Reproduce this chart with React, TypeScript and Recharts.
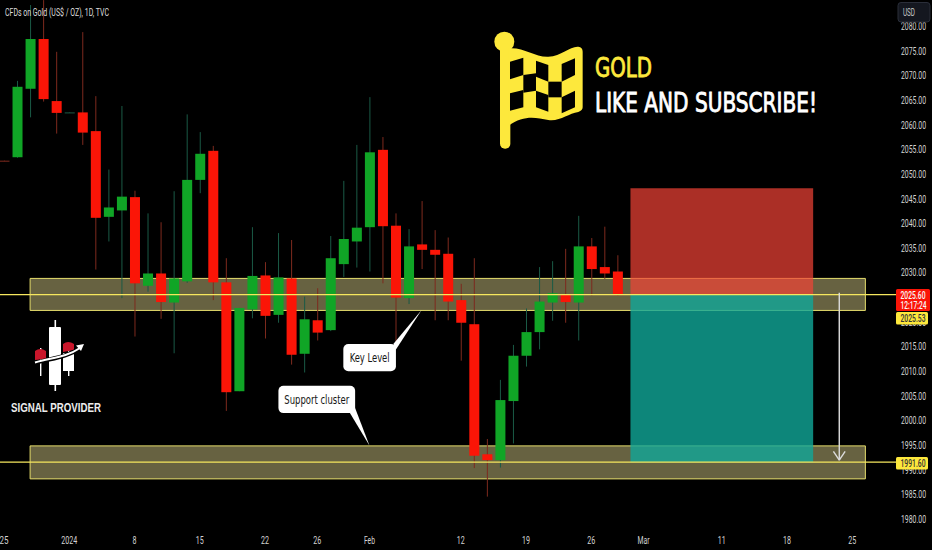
import React from "react";
import {
  ComposedChart,
  Bar,
  XAxis,
  YAxis,
  ReferenceArea,
  ReferenceLine,
  ReferenceDot,
} from "recharts";

const opens = [2052.8, 2053.5, 2067.4, 2077.5, 2064.9, 2062.5, 2062.6, 2058.8, 2041.4, 2042.7, 2045.4, 2027.4, 2029.9, 2024.0, 2028.3, 2048.9, 2054.8, 2028.1, 2006.0, 2022.6, 2029.5, 2021.5, 2028.9, 2013.6, 2020.4, 2018.4, 2031.8, 2036.4, 2039.3, 2055.0, 2039.6, 2024.9, 2035.8, 2034.7, 2033.9, 2024.5, 2019.6, 1993.2, 1992.0, 2004.0, 2013.2, 2018.0, 2024.0, 2025.6, 2024.0, 2035.4, 2031.2, 2030.3];
const closes = [2052.7, 2067.8, 2077.5, 2065.3, 2062.5, 2062.6, 2058.5, 2041.2, 2043.3, 2045.5, 2027.9, 2029.9, 2024.1, 2028.9, 2048.9, 2054.2, 2028.1, 2005.8, 2022.9, 2029.4, 2021.3, 2029.1, 2013.4, 2020.6, 2017.9, 2033.0, 2036.9, 2039.2, 2054.5, 2039.5, 2025.0, 2035.4, 2034.7, 2033.7, 2024.2, 2019.9, 1992.9, 1992.0, 2004.2, 2013.2, 2018.0, 2024.2, 2025.9, 2024.1, 2035.4, 2030.8, 2029.9, 2025.5];
const highs = [2052.8, 2069.0, 2084.4, 2085.4, 2074.9, 2062.6, 2078.9, 2065.9, 2051.0, 2063.9, 2046.7, 2042.1, 2040.3, 2046.6, 2062.2, 2058.6, 2055.8, 2033.0, 2022.9, 2039.3, 2032.2, 2038.1, 2036.7, 2025.2, 2026.9, 2037.5, 2048.7, 2056.0, 2065.7, 2057.6, 2042.1, 2038.9, 2044.6, 2038.7, 2037.2, 2027.8, 2033.0, 1996.3, 2008.3, 2015.4, 2022.8, 2031.2, 2032.4, 2034.9, 2041.6, 2037.1, 2039.4, 2033.6];
const lows = [2052.7, 2053.4, 2061.6, 2064.8, 2058.3, 2062.5, 2056.0, 2030.7, 2036.4, 2024.9, 2017.1, 2026.2, 2020.7, 2013.7, 2028.0, 2046.2, 2024.5, 2002.0, 2006.0, 2020.8, 2016.7, 2019.9, 2011.4, 2009.8, 2016.3, 2018.2, 2029.2, 2031.1, 2030.3, 2027.9, 2015.0, 2023.7, 2030.8, 2020.4, 2020.4, 2012.2, 1990.4, 1984.6, 1990.5, 1995.4, 2011.0, 2014.5, 2020.3, 2019.9, 2016.3, 2025.4, 2028.8, 2025.4];

const xTickIndex = [0, 5, 10, 15, 20, 24, 28, 35, 40, 45, 49, 55, 60, 65];
const xTickLabels = ["25", "2024", "8", "15", "22", "26", "Feb", "12", "19", "26", "Mar", "11", "18", "25"];
const xTickWidths = [9, 16, 4, 8, 8, 8, 11, 8, 8, 8, 12, 8, 8, 8];
const yTicks = [1980, 1985, 1990, 1995, 2000, 2005, 2010, 2015, 2020, 2025, 2030, 2035, 2040, 2045, 2050, 2055, 2060, 2065, 2070, 2075, 2080];

const lastPrice = 2025.6;
const targetPrice = 1991.6;
const topZone = [2022.4, 2028.9];
const bottomZone = [1988.2, 1994.9];
const riskTop = 2047.2;

const rows = opens.map((open, i) => ({
  i,
  open,
  close: closes[i],
  high: highs[i],
  low: lows[i],
  range: [lows[i], highs[i]],
}));

const FONT = "Roboto, 'Open Sans', sans-serif";
const COND = "'DejaVu Sans Condensed', 'DejaVu Sans', sans-serif";

function Candle(props: any) {
  const { x, y, width, height, payload } = props;
  const { open, close, high, low } = payload;
  const up = close >= open;
  const body = up ? "#10a526" : "#fb1507";
  const wick = up ? "#1a5a46" : "#7e2a1e";
  const unit = high > low ? height / (high - low) : 0;
  const cx = x + width / 2;
  const topPx = y + (high - Math.max(open, close)) * unit;
  const h = Math.abs(open - close) * unit;
  const doji = h < 1;
  return (
    <g>
      <line x1={cx} x2={cx} y1={y} y2={y + height} stroke={wick} strokeWidth={1} />
      <rect x={x} y={topPx} width={width} height={Math.max(h, 1)} fill={doji ? wick : body} />
    </g>
  );
}

function YTick(props: any) {
  const { x, y, payload } = props;
  return (
    <text x={x + 3} y={y + 3.5} fontFamily={FONT} fontSize={10} fill="#d2d2d2" textLength={25} lengthAdjust="spacingAndGlyphs">
      {Number(payload.value).toFixed(2)}
    </text>
  );
}

function XTick(props: any) {
  const { x, y, payload } = props;
  const k = xTickIndex.indexOf(payload.value);
  return (
    <text x={x} y={y + 8} textAnchor="middle" fontFamily={FONT} fontSize={10} fill="#d2d2d2" textLength={xTickWidths[k]} lengthAdjust="spacingAndGlyphs">
      {xTickLabels[k]}
    </text>
  );
}

function Callout(props: any) {
  const { cx, cy, box, tail, label, textW } = props;
  const [bx, by, bw, bh] = box;
  return (
    <g>
      <polygon points={`${cx},${cy} ${cx + tail[0]},${cy + tail[1]} ${cx + tail[2]},${cy + tail[3]}`} fill="#ffffff" />
      <rect x={cx + bx} y={cy + by} width={bw} height={bh} rx={5} fill="#ffffff" />
      <text x={cx + bx + bw / 2} y={cy + by + bh / 2 + 4.5} textAnchor="middle" fontFamily={COND} fontSize={13} fill="#161616" textLength={textW} lengthAdjust="spacingAndGlyphs">
        {label}
      </text>
    </g>
  );
}

function Overlay() {
  return (
    <svg width={932} height={550} style={{ position: "absolute", left: 0, top: 0, pointerEvents: "none" }}>
      <text x={5} y={15.5} fontFamily={FONT} fontSize={10.5} fill="#dcdcdc" textLength={104} lengthAdjust="spacingAndGlyphs">
        CFDs on Gold (US$ / OZ), 1D, TVC
      </text>

      <rect x={898} y={2.5} width={32} height={19.5} rx={3} fill="#14171f" stroke="#2a2e39" />
      <text x={903} y={16} fontFamily={FONT} fontSize={10} fill="#c9c9c9" textLength={12} lengthAdjust="spacingAndGlyphs">USD</text>

      <g transform="translate(480,20) scale(0.3333)">
        <circle cx={73} cy={65} r={30} fill="#fde83c" />
        <rect x={60} y={70} width={31} height={316} rx={15} fill="#fde83c" />
        <path d="M85 85 C130 80 165 112 205 110 C245 108 270 78 295 80 Q308 82 308 95 L308 262 Q308 272 295 276 C265 280 240 305 205 300 C165 292 130 285 85 318 Z" fill="#fde83c" />
        <polygon points="90,125 130,113 130,165 90,178" fill="#000" />
        <polygon points="168,122 205,135 205,185 168,170" fill="#000" />
        <polygon points="245,132 285,115 285,165 245,185" fill="#000" />
        <polygon points="130,165 168,160 168,212 130,218" fill="#000" />
        <polygon points="205,185 245,185 245,232 205,232" fill="#000" />
        <polygon points="90,220 130,210 130,262 90,272" fill="#000" />
        <polygon points="168,212 205,225 205,275 168,262" fill="#000" />
        <polygon points="245,232 285,212 285,262 245,280" fill="#000" />
      </g>
      <text x={595} y={76.5} fontFamily={COND} fontSize={26} fill="#fde83c" stroke="#fde83c" strokeWidth={0.8} textLength={57} lengthAdjust="spacingAndGlyphs">GOLD</text>
      <text x={595} y={111.5} fontFamily={COND} fontSize={26} fill="#ffffff" stroke="#ffffff" strokeWidth={0.8} textLength={222} lengthAdjust="spacingAndGlyphs">LIKE AND SUBSCRIBE!</text>

      <g>
        <rect x={54.5} y={320} width={1.6} height={71} fill="#fff" />
        <rect x={49} y={327} width={12} height={58} rx={1} fill="#fff" />
        <rect x={68} y={345} width={1.4} height={31} fill="#fff" />
        <rect x={63} y={353} width={11} height={18} fill="#fff" />
        <rect x={40} y={348} width={1.4} height={28} fill="#fff" />
        <path d="M35 351 Q40 347 46 351 L46 359 L35 360 Z" fill="#c9162b" />
        <path d="M63 344 Q68 340 74 344 L74 350 L63 352 Z" fill="#c9162b" />
        <path d="M35 363 C52 358 66 358 82 347" fill="none" stroke="#000" strokeWidth={4} />
        <path d="M35 362.5 C52 357.5 66 357.5 80 348" fill="none" stroke="#fff" strokeWidth={2} />
        <polygon points="84,344 76,345.5 81,351" fill="#fff" />
      </g>
      <text x={11} y={412} fontFamily="'Liberation Sans', Arial, sans-serif" fontWeight={700} fontSize={12} fill="#ededed" textLength={90} lengthAdjust="spacingAndGlyphs">SIGNAL PROVIDER</text>

      <rect x={896} y={289} width={34} height={22} rx={1.5} fill="#fb1507" />
      <text x={900.5} y={298.5} fontFamily={FONT} fontWeight={500} fontSize={10} fill="#f8f8f8" textLength={25} lengthAdjust="spacingAndGlyphs">2025.60</text>
      <text x={900.5} y={308.5} fontFamily={FONT} fontWeight={500} fontSize={10} fill="#f8f8f8" textLength={26} lengthAdjust="spacingAndGlyphs">12:17:24</text>
      <rect x={896} y={312} width={32} height={12.5} rx={1.5} fill="#fde83c" />
      <text x={900.5} y={321.5} fontFamily={FONT} fontWeight={500} fontSize={10} fill="#333" textLength={25} lengthAdjust="spacingAndGlyphs">2025.53</text>
      <rect x={896} y={457} width={32} height={12.5} rx={1.5} fill="#fde83c" />
      <text x={900.5} y={466.5} fontFamily={FONT} fontWeight={500} fontSize={10} fill="#333" textLength={25} lengthAdjust="spacingAndGlyphs">1991.60</text>
    </svg>
  );
}

const zoneStyle = { fill: "#f5e99a", fillOpacity: 0.42, stroke: "#e6dd6c", strokeWidth: 1 };

export default function App() {
  return (
    <div style={{ position: "absolute", left: 0, top: 0, width: 932, height: 550, background: "#000", overflow: "hidden" }}>
      <ComposedChart
        width={932}
        height={550}
        data={rows}
        margin={{ top: 0, right: 0, bottom: 0, left: 0 }}
        style={{ position: "absolute", left: 0, top: 0 }}
      >
        <XAxis
          dataKey="i"
          type="number"
          domain={[-0.306, 68.5]}
          allowDataOverflow
          ticks={xTickIndex}
          interval={0}
          axisLine={false}
          tickLine={false}
          height={22}
          tick={<XTick />}
        />
        <YAxis
          orientation="right"
          type="number"
          domain={[1978.23, 2085.42]}
          allowDataOverflow
          ticks={yTicks}
          interval={0}
          axisLine={false}
          tickLine={false}
          tickSize={0}
          tickMargin={0}
          width={34}
          tick={<YTick />}
        />
        <ReferenceArea x1={2} x2={66} y1={topZone[0]} y2={topZone[1]} {...zoneStyle} />
        <ReferenceArea x1={2} x2={66} y1={bottomZone[0]} y2={bottomZone[1]} {...zoneStyle} />
        <Bar dataKey="range" barSize={10} shape={<Candle />} isAnimationActive={false} />
        <ReferenceArea x1={48} x2={62} y1={lastPrice} y2={riskTop} fill="#f44336" fillOpacity={0.7} stroke="none" />
        <ReferenceArea x1={48} x2={62} y1={targetPrice} y2={lastPrice} fill="#10a898" fillOpacity={0.8} stroke="none" />
        <ReferenceLine y={lastPrice} stroke="#f6e75e" strokeWidth={1.4} />
        <ReferenceLine y={targetPrice} stroke="#f6e75e" strokeWidth={1.4} />
        <ReferenceLine segment={[{ x: 64, y: 2026 }, { x: 64, y: 1992 }]} stroke="#dcdcdc" strokeWidth={1.4} />
        <ReferenceLine segment={[{ x: 63.55, y: 1993.8 }, { x: 64, y: 1992 }]} stroke="#dcdcdc" strokeWidth={1.4} />
        <ReferenceLine segment={[{ x: 64.45, y: 1993.8 }, { x: 64, y: 1992 }]} stroke="#dcdcdc" strokeWidth={1.4} />
        <ReferenceDot
          x={32}
          y={2022.5}
          r={1}
          shape={(p: any) => (
            <Callout cx={p.cx} cy={p.cy} box={[-78.3, 34, 52.6, 27.3]} tail={[-28.3, 34, -26, 40]} label="Key Level" textW={40} />
          )}
        />
        <ReferenceDot
          x={28}
          y={1995}
          r={1}
          shape={(p: any) => (
            <Callout cx={p.cx} cy={p.cy} box={[-91, -59.7, 76.7, 27.4]} tail={[-19.5, -32.5, -14.5, -38]} label="Support cluster" textW={65} />
          )}
        />
      </ComposedChart>
      <Overlay />
    </div>
  );
}
